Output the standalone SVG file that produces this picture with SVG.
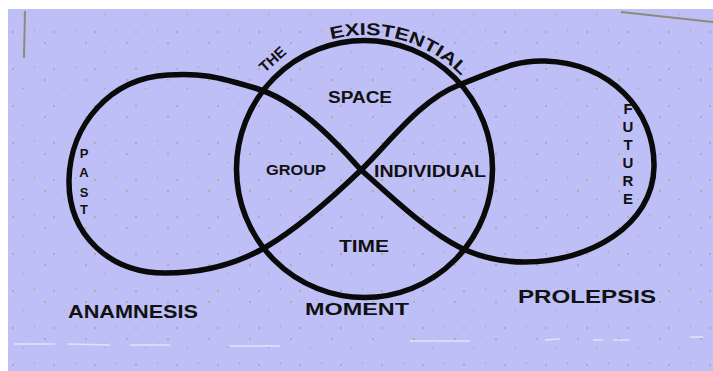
<svg xmlns="http://www.w3.org/2000/svg" width="713" height="371" viewBox="0 0 713 371">
<defs>
<style>
.ln{fill:none;stroke:#0a0a0a;stroke-width:5.5;stroke-linecap:round;stroke-linejoin:round}
.t{font-family:"Liberation Sans","DejaVu Sans",Arial,sans-serif;font-weight:bold;fill:#111;text-anchor:middle}
.edge{stroke:#8c8c78;stroke-width:2;fill:none}
.dash{stroke:#e6ecff;stroke-width:1.5;opacity:0.8}
</style>
<pattern id="speck" width="41" height="37" patternUnits="userSpaceOnUse">
<rect x="3" y="5" width="2" height="2" fill="#a2a274"/>
<rect x="22" y="14" width="2" height="1" fill="#a2a274"/>
<rect x="34" y="29" width="1" height="2" fill="#a2a274"/>
<rect x="12" y="31" width="2" height="2" fill="#a2a274"/>
<rect x="29" y="3" width="1" height="1" fill="#a2a274"/>
</pattern>
<path id="arcTop" d="M 231,169 A 134 134 0 0 1 499,169"/>
</defs>
<rect x="0" y="0" width="713" height="371" fill="#ffffff"/>
<rect x="8" y="9" width="705" height="362" fill="#bfbff7"/>
<rect x="8" y="9" width="705" height="362" fill="url(#speck)" opacity="0.6"/>
<line class="edge" x1="621" y1="12" x2="713" y2="22"/>
<line class="edge" x1="25" y1="11" x2="24" y2="58"/>
<g id="scan-dashes">
<line class="dash" x1="14" y1="344" x2="55" y2="344"/>
<line class="dash" x1="68" y1="344" x2="110" y2="345"/>
<line class="dash" x1="130" y1="345" x2="170" y2="345"/>
<line class="dash" x1="230" y1="346" x2="280" y2="346"/>
<line class="dash" x1="410" y1="341" x2="470" y2="341"/>
<line class="dash" x1="545" y1="340" x2="560" y2="339"/>
<line class="dash" x1="593" y1="340" x2="603" y2="340"/>
<line class="dash" x1="613" y1="340" x2="630" y2="340"/>
<line class="dash" x1="690" y1="337" x2="703" y2="337"/>
</g>

<g id="connectors">
<path id="infinity" class="ln" d="M361,170 C330,135 295,100 255,88 C215,76 200,73 168,75 C110,78 70,125 69,180 C68,235 110,273 165,273 C205,273 240,262 266,247 C300,227 335,195 361,170 C390,142 420,100 459,85 C498,70 515,60 545,61 C610,63 655,110 654,167 C653,225 590,262 525,262 C500,262 480,257 461,248 C425,230 390,195 361,170 Z"/>
</g>

<g id="existential-moment">
<ellipse class="ln" cx="364.5" cy="169" rx="128" ry="128.5"/>
<text class="t" font-size="15" transform="translate(276,63) rotate(-42)">THE</text>
<text class="t" font-size="17" style="text-anchor:start"><textPath href="#arcTop" startOffset="176" textLength="142" lengthAdjust="spacingAndGlyphs">EXISTENTIAL</textPath></text>
<text class="t" font-size="16" x="360" y="103" textLength="64" lengthAdjust="spacingAndGlyphs">SPACE</text>
<text class="t" font-size="15" x="296" y="175" textLength="60" lengthAdjust="spacingAndGlyphs">GROUP</text>
<text class="t" font-size="16" x="430" y="177" textLength="112" lengthAdjust="spacingAndGlyphs">INDIVIDUAL</text>
<text class="t" font-size="16" x="364" y="252" textLength="50" lengthAdjust="spacingAndGlyphs">TIME</text>
<text class="t" font-size="17" x="357" y="315" textLength="104" lengthAdjust="spacingAndGlyphs">MOMENT</text>
</g>

<g id="past">
<text class="t" font-size="13"><tspan x="84" y="158">P</tspan><tspan x="84" y="177">A</tspan><tspan x="84" y="197">S</tspan><tspan x="84" y="214">T</tspan></text>
<text class="t" font-size="19" x="133" y="318" textLength="130" lengthAdjust="spacingAndGlyphs">ANAMNESIS</text>
</g>

<g id="future">
<text class="t" font-size="15"><tspan x="628" y="114">F</tspan><tspan x="628" y="132">U</tspan><tspan x="628" y="150">T</tspan><tspan x="628" y="168">U</tspan><tspan x="628" y="186">R</tspan><tspan x="628" y="204">E</tspan></text>
<text class="t" font-size="19" x="587" y="303" textLength="138" lengthAdjust="spacingAndGlyphs">PROLEPSIS</text>
</g>
</svg>
